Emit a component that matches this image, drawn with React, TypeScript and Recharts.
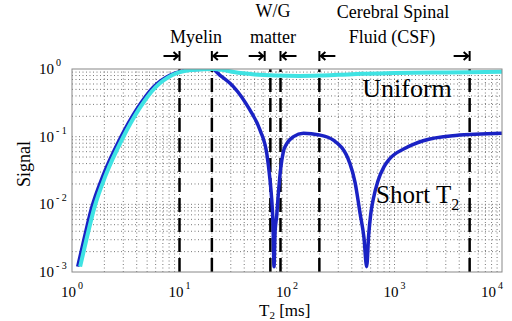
import React from "react";
import { LineChart, Line, XAxis, YAxis, ReferenceLine } from "recharts";

// T2 [ms] and signal values
const shortT2X = [1.13, 1.29, 1.52, 1.95, 2.8, 4, 5.7, 8.2, 12, 16, 20, 24, 31.7, 45, 56, 65, 69.5, 72, 74, 75.7, 77.5, 80, 83, 87, 92.5, 100, 115, 142, 200, 270, 385, 430, 478, 520, 551, 575, 600, 635, 700, 800, 890, 1270, 1850, 3700, 10000];
const shortT2Y = [0.0012, 0.003, 0.0088, 0.027, 0.094, 0.255, 0.54, 0.815, 0.965, 0.995, 1.0, 0.8, 0.55, 0.25, 0.126, 0.055, 0.023, 0.012, 0.0055, 0.0012, 0.004, 0.0065, 0.014, 0.032, 0.06, 0.08, 0.1, 0.112, 0.106, 0.089, 0.04, 0.021, 0.0074, 0.0032, 0.0012, 0.0035, 0.007, 0.012, 0.022, 0.036, 0.046, 0.068, 0.087, 0.104, 0.112];

const uniformX = [1.19, 1.36, 1.61, 2.06, 2.95, 4.2, 6, 8.6, 12.3, 17, 21, 25, 32, 50, 80, 130, 200, 300, 500, 1000, 3000, 10000];
const uniformY = [0.0012, 0.003, 0.0088, 0.027, 0.094, 0.255, 0.54, 0.815, 0.96, 0.995, 1.0, 0.97, 0.9, 0.83, 0.8, 0.79, 0.8, 0.82, 0.85, 0.87, 0.89, 0.91];

// region boundaries (dashed)
const boundaries = [10, 20, 70, 87, 200, 5000];

const xTicks = [1, 10, 100, 1000, 10000];
const yTicks = [0.001, 0.01, 0.1, 1];
const decades = [1, 10, 100, 1000];
const steps = [2, 3, 4, 5, 6, 7, 8, 9];
const xGrid = [...decades.flatMap((d) => steps.map((s) => s * d)), 10, 100, 1000];
const yGrid = [...[0.001, 0.01, 0.1].flatMap((d) => steps.map((s) => s * d)), 0.01, 0.1];

const shortT2Data = shortT2X.map((x, i) => ({ x, y: shortT2Y[i] }));
const uniformData = uniformX.map((x, i) => ({ x, y: uniformY[i] }));

const W = 512;
const H = 321;
const PLOT = { left: 72, top: 69, width: 430, height: 203 };
const xPx = (v: number) => PLOT.left + (Math.log10(v) / 4) * PLOT.width;
const FONT = '"Liberation Serif", "Times New Roman", serif';

const arrows = [
  { at: 10, dir: "right" },
  { at: 20, dir: "left" },
  { at: 62, dir: "right" },
  { at: 87, dir: "left" },
  { at: 200, dir: "left" },
  { at: 5000, dir: "right" },
];

const XTick = (props: any) => {
  const { x, payload } = props;
  const exp = Math.round(Math.log10(payload.value));
  const cx = exp === 4 ? x - 10 : x;
  return (
    <text x={cx} y={PLOT.top + PLOT.height + 25} textAnchor="middle" fontFamily={FONT} fontSize={15} fill="#000">
      10
      <tspan dx={2} dy={-8} fontSize={10}>
        {exp}
      </tspan>
    </text>
  );
};

const YTick = (props: any) => {
  const { y, payload } = props;
  const exp = Math.round(Math.log10(payload.value));
  return (
    <text x={39} y={y + 5} textAnchor="start" fontFamily={FONT} fontSize={15} fill="#000">
      10
      <tspan dx={2} dy={-8} fontSize={10}>
        {exp === 0 ? "0" : "- " + Math.abs(exp)}
      </tspan>
    </text>
  );
};

const Arrow = ({ at, dir }: { at: number; dir: string }) => {
  const bx = xPx(at);
  const y = 56;
  const s = dir === "right" ? -1 : 1;
  return (
    <g stroke="#000" strokeWidth={2} fill="none">
      <line x1={bx} y1={y - 5} x2={bx} y2={y + 5} />
      <line x1={bx + s * 1} y1={y} x2={bx + s * 16} y2={y} />
      <polyline points={`${bx + s * 6},${y - 4} ${bx + s * 1.5},${y} ${bx + s * 6},${y + 4}`} />
    </g>
  );
};

export default function App() {
  return (
    <div style={{ position: "absolute", left: 0, top: 0, width: W, height: H, background: "#fff" }}>
      <LineChart
        width={W}
        height={H}
        margin={{ top: PLOT.top, right: W - PLOT.left - PLOT.width, bottom: 0, left: 0 }}
      >
        <XAxis
          dataKey="x"
          type="number"
          scale="log"
          domain={[1, 10000]}
          allowDataOverflow
          ticks={xTicks}
          interval={0}
          tick={<XTick />}
          axisLine={false}
          tickLine={false}
          height={H - PLOT.top - PLOT.height}
        />
        <YAxis
          dataKey="y"
          type="number"
          scale="log"
          domain={[0.001, 1]}
          allowDataOverflow
          ticks={yTicks}
          interval={0}
          tick={<YTick />}
          axisLine={false}
          tickLine={false}
          width={PLOT.left}
        />
        {xGrid.map((v) => (
          <ReferenceLine key={"gx" + v} x={v} stroke="#777" strokeWidth={1} strokeDasharray="1 2.5" />
        ))}
        {yGrid.map((v) => (
          <ReferenceLine key={"gy" + v} y={v} stroke="#777" strokeWidth={1} strokeDasharray="1 2.5" />
        ))}
        {boundaries.map((v) => (
          <ReferenceLine key={"b" + v} x={v} stroke="#000" strokeWidth={2.5} strokeDasharray="14 6" />
        ))}
        <Line
          data={shortT2Data}
          dataKey="y"
          type="monotone"
          stroke="#1a22c4"
          strokeWidth={3.5}
          dot={false}
          isAnimationActive={false}
        />
        <Line
          data={uniformData}
          dataKey="y"
          type="monotone"
          stroke="#3fe3e3"
          strokeWidth={4}
          dot={false}
          isAnimationActive={false}
        />
      </LineChart>
      <svg
        width={W}
        height={H}
        style={{ position: "absolute", left: 0, top: 0, pointerEvents: "none" }}
        fontFamily={FONT}
      >
        <rect x={PLOT.left} y={PLOT.top} width={PLOT.width} height={PLOT.height} fill="none" stroke="#888" strokeWidth={1} />
        {arrows.map((a) => (
          <Arrow key={a.at} at={a.at} dir={a.dir} />
        ))}
        <text x={196} y={43} textAnchor="middle" fontSize={18}>Myelin</text>
        <text x={273} y={17} textAnchor="middle" fontSize={18}>W/G</text>
        <text x={273} y={43} textAnchor="middle" fontSize={18}>matter</text>
        <text x={393} y={18} textAnchor="middle" fontSize={18}>Cerebral Spinal</text>
        <text x={392} y={43} textAnchor="middle" fontSize={18}>Fluid (CSF)</text>
        <text x={407} y={97} textAnchor="middle" fontSize={26}>Uniform</text>
        <text x={376} y={203} fontSize={25}>
          Short T<tspan fontSize={16} dy={7}>2</tspan>
        </text>
        <text x={30} y={164} textAnchor="middle" fontSize={18} transform="rotate(-90 30 164)">Signal</text>
        <text x={259} y={316} fontSize={17}>
          T<tspan fontSize={11} dy={3}>2</tspan>
          <tspan dy={-3}> [ms]</tspan>
        </text>
      </svg>
    </div>
  );
}
